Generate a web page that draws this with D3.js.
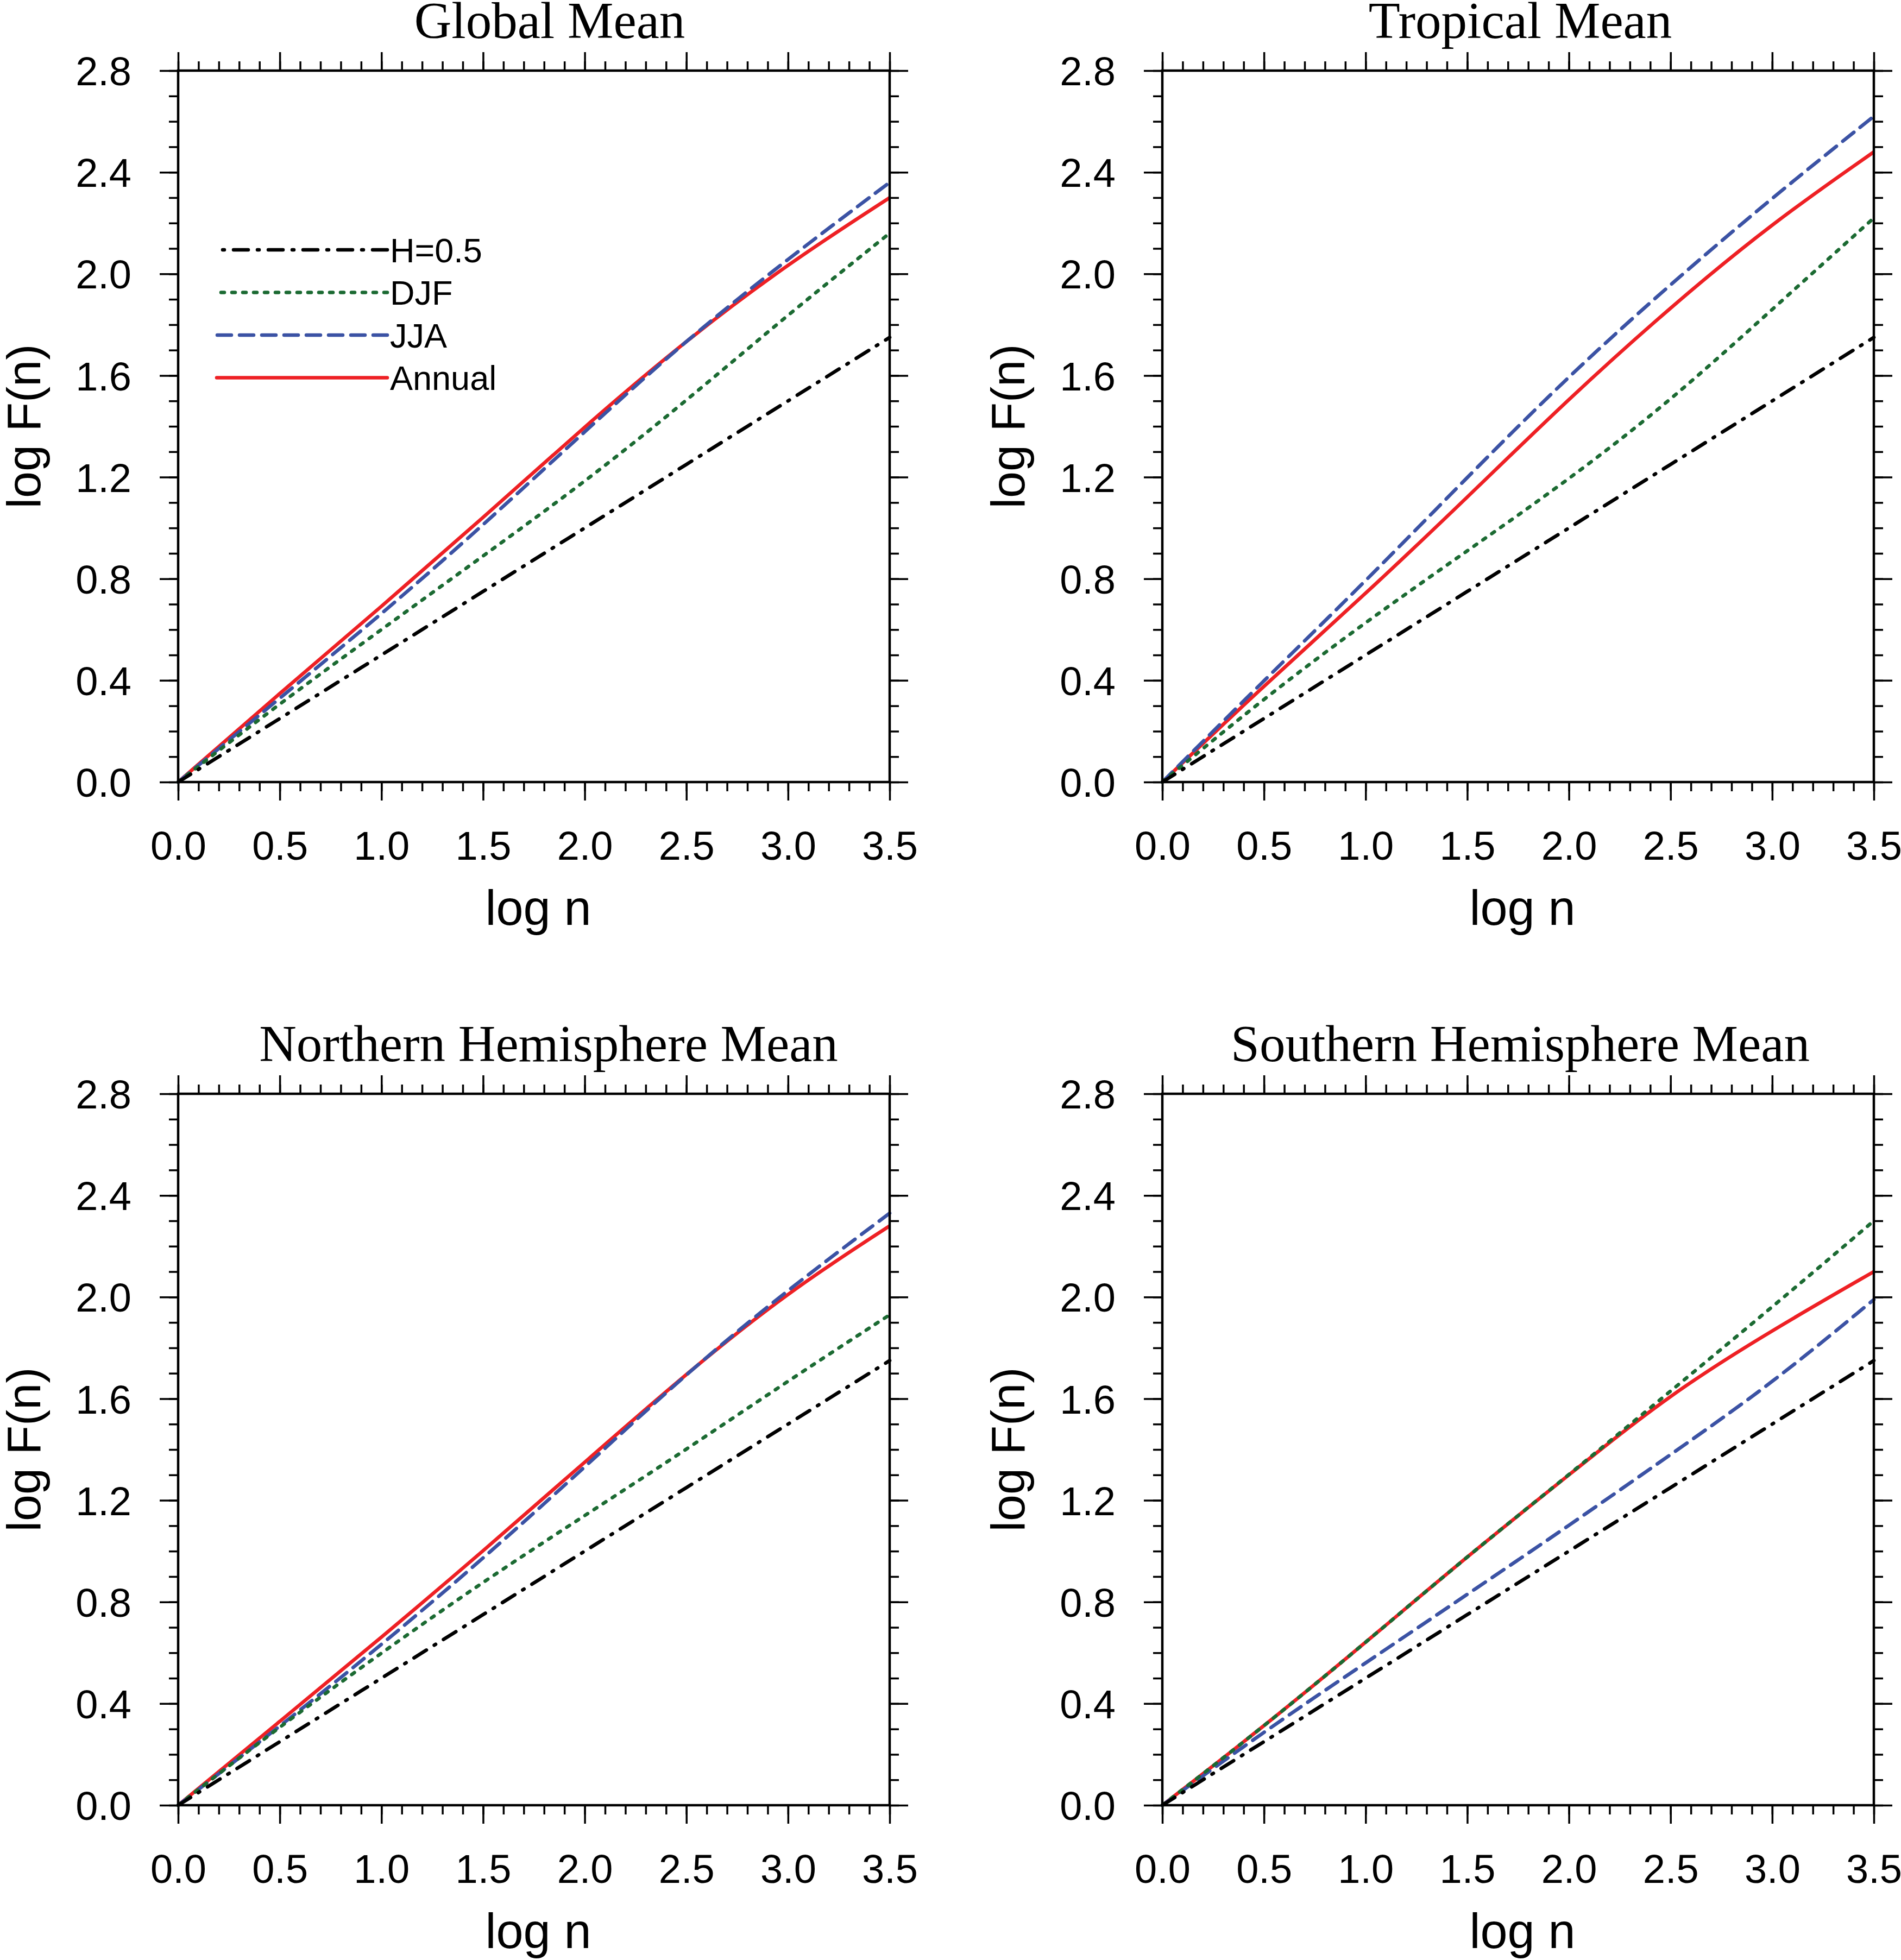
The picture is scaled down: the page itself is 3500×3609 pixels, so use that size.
<!DOCTYPE html>
<html><head><meta charset="utf-8">
<script src="https://cdn.jsdelivr.net/npm/d3@7/dist/d3.min.js"></script>
<style>body{margin:0;background:#fff}</style>
</head><body>
<svg id="c" width="3500" height="3609" xmlns="http://www.w3.org/2000/svg"></svg>
<script>
// ---- data ----
const logN = [0, 0.5, 1.0, 1.5, 2.0, 2.5, 3.0, 3.5];
const xTickValues = [0, 0.5, 1.0, 1.5, 2.0, 2.5, 3.0, 3.5];
const xTickLabels = ["0.0","0.5","1.0","1.5","2.0","2.5","3.0","3.5"];
const yTickValues = [0, 0.4, 0.8, 1.2, 1.6, 2.0, 2.4, 2.8];
const yTickLabels = ["0.0","0.4","0.8","1.2","1.6","2.0","2.4","2.8"];
const panelTitles = ["Global Mean", "Tropical Mean", "Northern Hemisphere Mean", "Southern Hemisphere Mean"];
const seriesNames = ["H=0.5", "DJF", "JJA", "Annual"];

const globalH      = [0, 0.25, 0.50, 0.75, 1.00, 1.25, 1.50, 1.75];
const globalDJF    = [0, 0.31, 0.60, 0.89, 1.18, 1.50, 1.84, 2.16];
const globalJJA    = [0, 0.33, 0.66, 1.01, 1.38, 1.74, 2.06, 2.36];
const globalAnnual = [0, 0.35, 0.69, 1.04, 1.40, 1.74, 2.04, 2.30];

const tropH      = [0, 0.25, 0.50, 0.75, 1.00, 1.25, 1.50, 1.75];
const tropDJF    = [0, 0.33, 0.63, 0.91, 1.19, 1.50, 1.86, 2.22];
const tropJJA    = [0, 0.40, 0.79, 1.20, 1.60, 1.96, 2.30, 2.62];
const tropAnnual = [0, 0.38, 0.74, 1.12, 1.51, 1.87, 2.20, 2.48];

const nhH      = [0, 0.25, 0.50, 0.75, 1.00, 1.25, 1.50, 1.75];
const nhDJF    = [0, 0.31, 0.60, 0.88, 1.14, 1.40, 1.67, 1.93];
const nhJJA    = [0, 0.31, 0.63, 0.97, 1.33, 1.70, 2.03, 2.33];
const nhAnnual = [0, 0.33, 0.66, 1.00, 1.35, 1.70, 2.02, 2.28];

const shH      = [0, 0.25, 0.50, 0.75, 1.00, 1.25, 1.50, 1.75];
const shDJF    = [0, 0.31, 0.64, 0.98, 1.30, 1.63, 1.96, 2.30];
const shJJA    = [0, 0.29, 0.56, 0.83, 1.10, 1.38, 1.66, 1.99];
const shAnnual = [0, 0.31, 0.64, 0.98, 1.30, 1.62, 1.87, 2.10];

// ---- layout & style ----
const panels = [
  {title: panelTitles[0], x0: 328,  y0: 130,  titleX: 1012, legend: true,
   series: [globalH, globalDJF, globalJJA, globalAnnual]},
  {title: panelTitles[1], x0: 2140, y0: 130,  titleX: 2799, legend: false,
   series: [tropH, tropDJF, tropJJA, tropAnnual]},
  {title: panelTitles[2], x0: 328,  y0: 2014, titleX: 1010, legend: false,
   series: [nhH, nhDJF, nhJJA, nhAnnual]},
  {title: panelTitles[3], x0: 2140, y0: 2014, titleX: 2799, legend: false,
   series: [shH, shDJF, shJJA, shAnnual]}
];
const W = 1310, H = 1310;
const styles = [
  {color: "#000000", dash: "27,17,3,17"},
  {color: "#1b6a32", dash: "6,14"},
  {color: "#3b52a4", dash: "26,15"},
  {color: "#ee2024", dash: null}
];
const drawOrder = [3, 2, 1, 0];
const sans = "'Liberation Sans', Arial, Helvetica, sans-serif";
const serif = "'Liberation Serif', 'Times New Roman', serif";

const svg = d3.select("#c");
svg.append("rect").attr("width", 3500).attr("height", 3609).attr("fill", "#fff");

panels.forEach(p => {
  const x = d3.scaleLinear().domain([0, 3.5]).range([p.x0, p.x0 + W]);
  const y = d3.scaleLinear().domain([0, 2.8]).range([p.y0 + H, p.y0]);
  const g = svg.append("g");

  const xMinor = x.ticks(35);
  const yMinor = y.ticks(28);

  function addAxis(gen, transform, values, size, labels, pad) {
    const a = gen.tickValues(values).tickSize(size).tickSizeOuter(0).tickPadding(pad || 0)
      .tickFormat(labels ? (d, i) => labels[i] : () => "");
    const ag = g.append("g").attr("transform", transform).call(a);
    ag.select(".domain").remove();
    ag.selectAll(".tick line").attr("stroke", "#000").attr("stroke-width", 3.5);
    ag.selectAll("text").attr("font-family", sans).attr("font-size", 74).attr("fill", "#000");
    return ag;
  }
  // minor ticks
  addAxis(d3.axisBottom(x), `translate(0,${p.y0 + H})`, xMinor, 17);
  addAxis(d3.axisTop(x), `translate(0,${p.y0})`, xMinor, 17);
  addAxis(d3.axisLeft(y), `translate(${p.x0},0)`, yMinor, 17);
  addAxis(d3.axisRight(y), `translate(${p.x0 + W},0)`, yMinor, 17);
  // major ticks
  addAxis(d3.axisBottom(x), `translate(0,${p.y0 + H})`, xTickValues, 34, xTickLabels, 56);
  addAxis(d3.axisTop(x), `translate(0,${p.y0})`, xTickValues, 34);
  const ly = addAxis(d3.axisLeft(y), `translate(${p.x0},0)`, yTickValues, 34, yTickLabels, 52);
  ly.selectAll("text").attr("dy", "0.36em");
  addAxis(d3.axisRight(y), `translate(${p.x0 + W},0)`, yTickValues, 34);

  // curves
  const line = d3.line().x((d, i) => x(logN[i])).y(d => y(d)).curve(d3.curveBasis);
  drawOrder.forEach(k => {
    g.append("path").datum(p.series[k])
      .attr("d", line)
      .attr("fill", "none")
      .attr("stroke", styles[k].color)
      .attr("stroke-width", 6.5)
      .attr("stroke-linecap", styles[k].dash ? "round" : "butt")
      .attr("stroke-linejoin", "round")
      .attr("stroke-dasharray", styles[k].dash);
  });

  // frame
  g.append("rect").attr("x", p.x0).attr("y", p.y0).attr("width", W).attr("height", H)
    .attr("fill", "none").attr("stroke", "#000").attr("stroke-width", 4.5);

  // titles & axis labels
  g.append("text").attr("x", p.titleX).attr("y", p.y0 - 60)
    .attr("text-anchor", "middle").attr("font-family", serif).attr("font-size", 95)
    .attr("fill", "#000").text(p.title);
  g.append("text").attr("x", p.x0 + W / 2 + 8).attr("y", p.y0 + H + 263)
    .attr("text-anchor", "middle").attr("font-family", sans).attr("font-size", 90)
    .attr("fill", "#000").text("log n");
  g.append("text")
    .attr("transform", `translate(${p.x0 - 254},${p.y0 + H / 2}) rotate(-90)`)
    .attr("text-anchor", "middle").attr("font-family", sans).attr("font-size", 88)
    .attr("fill", "#000").text("log F(n)");

  // legend
  if (p.legend) {
    const lx0 = p.x0 + 71, lx1 = p.x0 + 385, ly0 = p.y0 + 330, step = 78.5;
    seriesNames.forEach((name, k) => {
      const yy = ly0 + k * step;
      g.append("line").attr("x1", lx1).attr("x2", lx0).attr("y1", yy).attr("y2", yy)
        .attr("stroke", styles[k].color).attr("stroke-width", 6.5)
        .attr("stroke-linecap", "round")
        .attr("stroke-dasharray", styles[k].dash);
      g.append("text").attr("x", lx1 + 5).attr("y", yy + 22.5)
        .attr("font-family", sans).attr("font-size", 63).attr("fill", "#000").text(name);
    });
  }
});
</script>
</body></html>
